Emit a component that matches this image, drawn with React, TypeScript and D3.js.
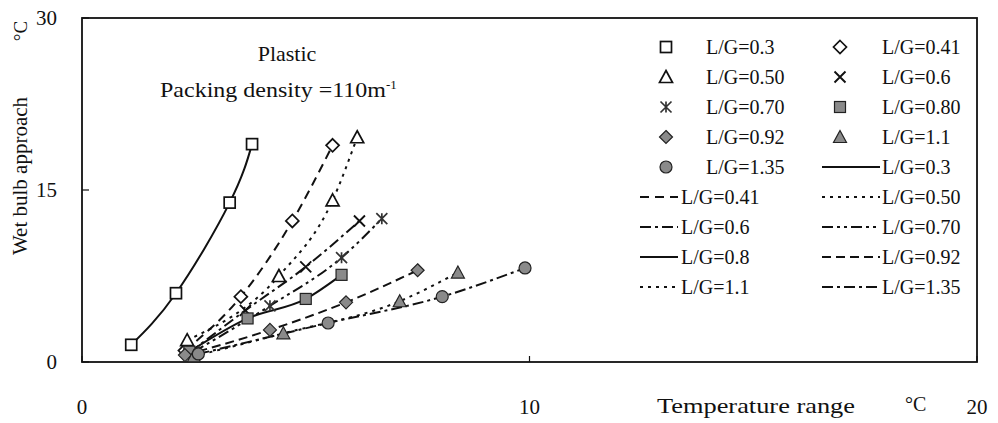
import React from "react";
import * as d3 from "d3";

const W = 998;
const H = 423;

// series data (x = temperature range °C, y = wet bulb approach °C)
const lgLabels = ["0.3", "0.41", "0.50", "0.6", "0.70", "0.80", "0.92", "1.1", "1.35"];
const lineLabels = ["0.3", "0.41", "0.50", "0.6", "0.70", "0.8", "0.92", "1.1", "1.35"];
const s03x = [1.1, 2.1, 3.3, 3.8];
const s03y = [1.5, 6.0, 13.9, 19.0];
const s041x = [2.3, 3.55, 4.7, 5.6];
const s041y = [1.0, 5.7, 12.3, 18.9];
const s050x = [2.35, 4.4, 5.6, 6.15];
const s050y = [1.9, 7.5, 14.1, 19.6];
const s06x = [2.4, 3.65, 5.0, 6.2];
const s06y = [0.8, 4.5, 8.3, 12.3];
const s070x = [2.5, 4.2, 5.8, 6.7];
const s070y = [0.9, 4.9, 9.1, 12.5];
const s080x = [2.4, 3.7, 5.0, 5.8];
const s080y = [0.9, 3.8, 5.5, 7.6];
const s092x = [2.3, 4.2, 5.9, 7.5];
const s092y = [0.6, 2.8, 5.2, 8.0];
const s11x = [2.5, 4.5, 7.1, 8.4];
const s11y = [0.5, 2.5, 5.3, 7.8];
const s135x = [2.6, 5.5, 8.05, 9.9];
const s135y = [0.7, 3.4, 5.7, 8.2];

const xTicks = [0, 10, 20];
const yTicks = [0, 15, 30];

const seriesX = [s03x, s041x, s050x, s06x, s070x, s080x, s092x, s11x, s135x];
const seriesY = [s03y, s041y, s050y, s06y, s070y, s080y, s092y, s11y, s135y];
const markerKinds = ["square", "diamond", "triangle", "x", "asterisk", "fsquare", "fdiamond", "ftriangle", "circle"];
const dashes = ["", "9,6", "3,5", "11,4,3,4", "11,4,3,4,3,4", "", "9,5", "3,5", "11,4,3,4"];

const FONT = "'Liberation Serif', 'Times New Roman', serif";
const INK = "#111";
const GRAY = "#8a8a8a";

function Marker({ kind, x, y }: { kind: string; x: number; y: number }) {
  const s = 5.5;
  switch (kind) {
    case "square":
      return <rect x={x - s} y={y - s} width={2 * s} height={2 * s} fill="#fff" stroke={INK} strokeWidth={1.7} />;
    case "diamond":
      return <path d={`M${x},${y - s - 1}L${x + s + 1},${y}L${x},${y + s + 1}L${x - s - 1},${y}Z`} fill="#fff" stroke={INK} strokeWidth={1.7} />;
    case "triangle":
      return <path d={`M${x},${y - s - 1}L${x + s + 1},${y + s}L${x - s - 1},${y + s}Z`} fill="#fff" stroke={INK} strokeWidth={1.7} />;
    case "x":
      return <path d={`M${x - s},${y - s}L${x + s},${y + s}M${x + s},${y - s}L${x - s},${y + s}`} stroke={INK} strokeWidth={1.9} />;
    case "asterisk":
      return <path d={`M${x - s},${y - s}L${x + s},${y + s}M${x + s},${y - s}L${x - s},${y + s}M${x},${y - s}L${x},${y + s}`} stroke="#333" strokeWidth={1.7} />;
    case "fsquare":
      return <rect x={x - s} y={y - s} width={2 * s} height={2 * s} fill={GRAY} stroke="#222" strokeWidth={1.2} />;
    case "fdiamond":
      return <path d={`M${x},${y - s - 1}L${x + s + 1},${y}L${x},${y + s + 1}L${x - s - 1},${y}Z`} fill={GRAY} stroke="#222" strokeWidth={1.2} />;
    case "ftriangle":
      return <path d={`M${x},${y - s - 1}L${x + s + 1},${y + s}L${x - s - 1},${y + s}Z`} fill={GRAY} stroke="#222" strokeWidth={1.2} />;
    case "circle":
      return <circle cx={x} cy={y} r={s + 0.5} fill={GRAY} stroke="#222" strokeWidth={1.2} />;
    default:
      return null;
  }
}

export default function App() {
  const left = 82, right = 977, top = 18, bottom = 362;
  const xScale = d3.scaleLinear().domain([0, 20]).range([left, right]);
  const yScale = d3.scaleLinear().domain([0, 30]).range([bottom, top]);
  const mkLine = (curve: d3.CurveFactory) =>
    d3
      .line<[number, number]>()
      .x((d) => xScale(d[0]))
      .y((d) => yScale(d[1]))
      .curve(curve);
  const smoothLine = mkLine(d3.curveNatural);
  const line = mkLine(d3.curveMonotoneX);

  const rowY = (i: number) => 47 + i * 30;
  const col1Marker = 666, col1Text = 706, col1LineA = 640, col1LineB = 678, col1LineText = 681;
  const col2Marker = 840, col2Text = 882, col2LineA = 822, col2LineB = 880, col2LineText = 882;

  // legend entries: 9 marker series, then 9 line series, row-wise in 2 columns
  const legend: { type: string; idx: number }[] = [];
  for (let i = 0; i < 9; i++) legend.push({ type: "m", idx: i });
  for (let i = 0; i < 9; i++) legend.push({ type: "l", idx: i });

  return (
    <svg width={W} height={H} style={{ position: "absolute", left: 0, top: 0, background: "#fff" }} fontFamily={FONT}>
      <rect x={0} y={0} width={W} height={H} fill="#fff" />
      {/* frame */}
      <rect x={left} y={top} width={right - left} height={bottom - top} fill="none" stroke={INK} strokeWidth={1.8} />
      {/* ticks */}
      {yTicks.map((t) => (
        <g key={"y" + t}>
          <line x1={left} x2={left + 7} y1={yScale(t)} y2={yScale(t)} stroke={INK} strokeWidth={1.2} />
          <text x={57} y={yScale(t) + 7} textAnchor="end" fontSize={21} fill={INK}>{t}</text>
        </g>
      ))}
      {xTicks.map((t) => (
        <g key={"x" + t}>
          <line x1={xScale(t)} x2={xScale(t)} y1={bottom} y2={bottom - 6} stroke={INK} strokeWidth={1.2} />
          <text x={xScale(t)} y={414} textAnchor="middle" fontSize={21} fill={INK}>{t}</text>
        </g>
      ))}
      {/* axis titles */}
      <text transform={`translate(27,176) rotate(-90)`} textAnchor="middle" fontSize={21} fill={INK}>Wet bulb approach</text>
      <text transform={`translate(27,31) rotate(-90)`} textAnchor="middle" fontSize={19} fill={INK}>°C</text>
      <text x={657} y={413} fontSize={21} textLength={198} lengthAdjust="spacingAndGlyphs" fill={INK}>Temperature range</text>
      <text x={905} y={411} fontSize={20} fill={INK}>°C</text>
      {/* annotations */}
      <text x={287} y={61} textAnchor="middle" fontSize={22} fill={INK}>Plastic</text>
      <text x={160} y={97} fontSize={21} fill={INK}>
        <tspan textLength={226} lengthAdjust="spacingAndGlyphs">Packing density =110m</tspan>
        <tspan dy={-8} fontSize={13}>-1</tspan>
      </text>
      {/* lines */}
      {seriesX.map((xs, i) => {
        const pts = xs.map((x, j) => [x, seriesY[i][j]]) as [number, number][];
        return (
          <path
            key={"l" + i}
            d={(i === 0 ? smoothLine(pts) : line(pts)) || ""}
            fill="none"
            stroke={INK}
            strokeWidth={2}
            strokeDasharray={dashes[i] || undefined}
          />
        );
      })}
      {/* markers */}
      {seriesX.map((xs, i) =>
        xs.map((x, j) => <Marker key={`m${i}-${j}`} kind={markerKinds[i]} x={xScale(x)} y={yScale(seriesY[i][j])} />)
      )}
      {/* legend */}
      {legend.map((e, k) => {
        const row = Math.floor(k / 2);
        const col = k % 2;
        const y = rowY(row);
        if (e.type === "m") {
          const mx = col === 0 ? col1Marker : col2Marker;
          const tx = col === 0 ? col1Text : col2Text;
          return (
            <g key={"lg" + k}>
              <Marker kind={markerKinds[e.idx]} x={mx} y={y} />
              <text x={tx} y={y + 7} fontSize={20} fill={INK}>{"L/G=" + lgLabels[e.idx]}</text>
            </g>
          );
        }
        const a = col === 0 ? col1LineA : col2LineA;
        const b = col === 0 ? col1LineB : col2LineB;
        const tx = col === 0 ? col1LineText : col2LineText;
        return (
          <g key={"lg" + k}>
            <line x1={a} x2={b} y1={y} y2={y} stroke={INK} strokeWidth={1.8} strokeDasharray={dashes[e.idx] || undefined} />
            <text x={tx} y={y + 7} fontSize={20} fill={INK}>{"L/G=" + lineLabels[e.idx]}</text>
          </g>
        );
      })}
    </svg>
  );
}
